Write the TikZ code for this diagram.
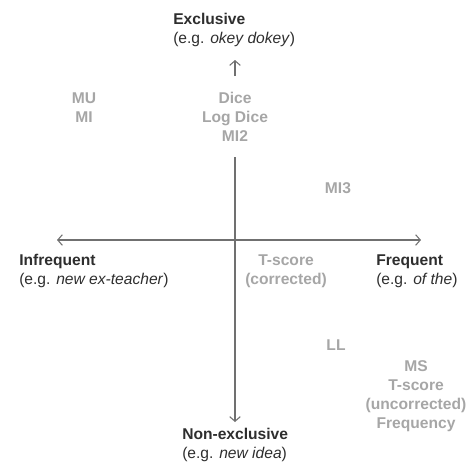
\documentclass[tikz,border=0pt]{standalone}
\usepackage{fontspec}
\setmainfont{Liberation Sans}
\usetikzlibrary{arrows.meta}
\definecolor{darktext}{HTML}{2E2E2E}
\definecolor{greytext}{HTML}{A6A6A6}
\definecolor{axiscol}{HTML}{707070}
\begin{document}
\begin{tikzpicture}[x=0.75pt,y=-0.75pt,
  axis/.style={draw=axiscol,line width=0.8pt,-{Straight Barb[length=3.5pt,width=8pt]}},
  axisboth/.style={draw=axiscol,line width=0.8pt,{Straight Barb[length=3.5pt,width=8pt]}-{Straight Barb[length=3.5pt,width=8pt]}},
  pole/.style={text=darktext,align=left,anchor=west,inner sep=0pt,font=\fontsize{11.7pt}{14.25pt}\selectfont},
  metric/.style={text=greytext,align=center,inner sep=0pt,font=\fontsize{11.7pt}{14.25pt}\selectfont\bfseries}]
\useasboundingbox (0,0) rectangle (469,462);
\coordinate (top) at (235,60);
\coordinate (topstart) at (235,76);
\coordinate (vstart) at (235,157);
\coordinate (bot) at (235,422);
\coordinate (hl) at (57,240);
\coordinate (hr) at (421,240);
\draw[axis] (topstart) -- (top);
\draw[axis] (vstart) -- (bot);
\draw[axisboth] (hl) -- (hr);
\node[pole] (excl) at (173,30) {\textbf{Exclusive}\\(e.g. \textit{okey dokey})};
\node[pole] (infreq) at (19,271) {\textbf{Infrequent}\\(e.g. \textit{new ex-teacher})};
\node[pole] (freq) at (376,271) {\textbf{Frequent}\\(e.g. \textit{of the})};
\node[pole] (nonex) at (182,445) {\textbf{Non-exclusive}\\(e.g. \textit{new idea})};
\node[metric] (mu) at (84,108) {MU\\MI};
\node[metric] (dice) at (235,117) {Dice\\Log Dice\\MI2};
\node[metric] (mi3) at (338,188) {MI3};
\node[metric] (tsc) at (286,271) {T-score\\(corrected)};
\node[metric] (ll) at (336,345) {LL};
\node[metric] (ms) at (416,396) {MS\\T-score\\(uncorrected)\\Frequency};
\end{tikzpicture}
\end{document}
